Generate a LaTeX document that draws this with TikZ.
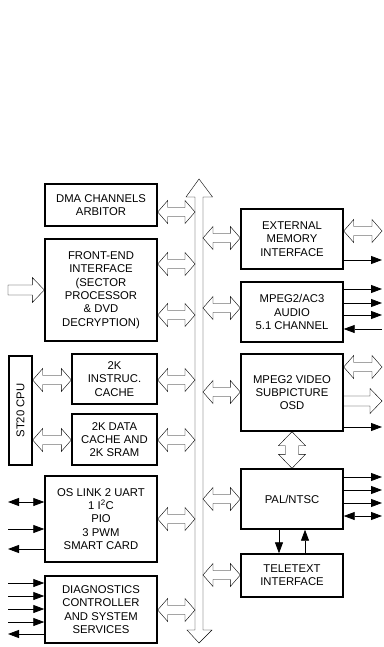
\documentclass[tikz,border=0pt]{standalone}
\usepackage{fontspec}
\setmainfont{Liberation Sans}
\usetikzlibrary{arrows.meta,calc}

\begin{document}
\begin{tikzpicture}[x=1pt,y=-1pt,
    every node/.style={font=\fontsize{11.3}{13.3}\selectfont},
    blk/.style={draw,line width=1.4pt,align=center,inner sep=0pt},
    sig/.style={-{Triangle[length=11pt,width=8pt]},line width=0.8pt},
    sigb/.style={{Triangle[length=11pt,width=8pt]}-{Triangle[length=11pt,width=8pt]},line width=0.8pt},
    hollow/.style={draw,line width=1pt,line join=miter},
    hbus/.style={hollow,to path={
        -- ($(\tikztostart)+(10pt,11.5pt)$) -- ($(\tikztostart)+(10pt,4.5pt)$)
        -- ($(\tikztotarget)+(-10pt,4.5pt)$) -- ($(\tikztotarget)+(-10pt,11.5pt)$)
        -- (\tikztotarget)
        -- ($(\tikztotarget)+(-10pt,-11.5pt)$) -- ($(\tikztotarget)+(-10pt,-4.5pt)$)
        -- ($(\tikztostart)+(10pt,-4.5pt)$) -- ($(\tikztostart)+(10pt,-11.5pt)$) -- cycle}},
    hone/.style={hollow,to path={
        -- ($(\tikztostart)+(0pt,5pt)$)
        -- ($(\tikztotarget)+(-12pt,5pt)$) -- ($(\tikztotarget)+(-12pt,12.5pt)$)
        -- (\tikztotarget)
        -- ($(\tikztotarget)+(-12pt,-12.5pt)$) -- ($(\tikztotarget)+(-12pt,-5pt)$)
        -- ($(\tikztostart)+(0pt,-5pt)$) -- cycle}},
    vbus/.style={hollow,to path={
        -- ($(\tikztostart)+(13.5pt,-14pt)$) -- ($(\tikztostart)+(6.5pt,-14pt)$)
        -- ($(\tikztotarget)+(6.5pt,14pt)$) -- ($(\tikztotarget)+(13.5pt,14pt)$)
        -- (\tikztotarget)
        -- ($(\tikztotarget)+(-13.5pt,14pt)$) -- ($(\tikztotarget)+(-6.5pt,14pt)$)
        -- ($(\tikztostart)+(-6.5pt,-14pt)$) -- ($(\tikztostart)+(-13.5pt,-14pt)$) -- cycle}},
    busline/.style={hollow,to path={
        -- ($(\tikztostart)+(13.5pt,-18pt)$) -- ($(\tikztostart)+(4pt,-18pt)$)
        -- ($(\tikztotarget)+(4pt,13pt)$) -- ($(\tikztotarget)+(13pt,13pt)$)
        -- (\tikztotarget)
        -- ($(\tikztotarget)+(-12pt,13pt)$) -- ($(\tikztotarget)+(-4pt,13pt)$)
        -- ($(\tikztostart)+(-4pt,-18pt)$) -- ($(\tikztostart)+(-13pt,-18pt)$) -- cycle}}]
\useasboundingbox (0,0) rectangle (383,647);

% bus and edges
\coordinate (bustop) at (199,179);
\coordinate (busbot) at (199,643);
\coordinate (bl) at (195,0);
\coordinate (br) at (203,0);
\coordinate (lft) at (8,0);
\coordinate (rgt) at (382,0);
\draw (bustop) to[busline] (busbot);

% left column
\node[blk,minimum width=112,minimum height=42] (dma) at (101,205) {DMA CHANNELS\\ARBITOR};
\node[blk,minimum width=112,minimum height=102] (fe) at (101,290) {FRONT-END\\INTERFACE\\(SECTOR\\PROCESSOR\\\& DVD\\DECRYPTION)};
\node[blk,minimum width=23,minimum height=109] (cpu) at (20.5,410.5) {};
\node[rotate=90] at (cpu.center) {ST20 CPU};
\node[blk,minimum width=85,minimum height=50] (icache) at (114.5,379) {2K\\INSTRUC.\\CACHE};
\node[blk,minimum width=85,minimum height=51] (dcache) at (114.5,439.5) {2K DATA\\CACHE AND\\2K SRAM};
\node[blk,minimum width=112,minimum height=86] (oslink) at (101,519) {OS LINK 2 UART\\1 I\textsuperscript{2}C\\PIO\\3 PWM\\SMART CARD};
\node[blk,minimum width=112,minimum height=67] (diag) at (101,609.5) {DIAGNOSTICS\\CONTROLLER\\AND SYSTEM\\SERVICES};

% right column
\node[blk,minimum width=102,minimum height=60] (emi) at (292,239) {EXTERNAL\\MEMORY\\INTERFACE};
\node[blk,minimum width=102,minimum height=60] (audio) at (292,312) {MPEG2/AC3\\AUDIO\\5.1 CHANNEL};
\node[blk,minimum width=102,minimum height=77] (video) at (292,392.5) {MPEG2 VIDEO\\SUBPICTURE\\OSD};
\node[blk,minimum width=102,minimum height=60] (pal) at (292,499) {PAL/NTSC};
\node[blk,minimum width=102,minimum height=43] (ttx) at (292,575.5) {TELETEXT\\INTERFACE};

% bus connections
\draw (dma.east |- 0,212) to[hbus] (bl |- 0,212);
\foreach \yy in {264,315} \draw (fe.east |- 0,\yy) to[hbus] (bl |- 0,\yy);
\draw (icache.east |- 0,380) to[hbus] (bl |- 0,380);
\draw (dcache.east |- 0,440) to[hbus] (bl |- 0,440);
\draw (oslink.east |- 0,519) to[hbus] (bl |- 0,519);
\draw (diag.east |- 0,610) to[hbus] (bl |- 0,610);
\draw (br |- 0,238) to[hbus] (emi.west |- 0,238);
\draw (br |- 0,308) to[hbus] (audio.west |- 0,308);
\draw (br |- 0,392) to[hbus] (video.west |- 0,392);
\draw (br |- 0,499) to[hbus] (pal.west |- 0,499);
\draw (br |- 0,575) to[hbus] (ttx.west |- 0,575);

% cpu to caches
\draw (cpu.east |- 0,380) to[hbus] (icache.west |- 0,380);
\draw (cpu.east |- 0,440) to[hbus] (dcache.west |- 0,440);

% left side signals
\draw (lft |- 0,290) to[hone] (fe.west |- 0,290);
\draw[sigb] (lft |- 0,502) -- (oslink.west |- 0,502);
\draw[sig] (lft |- 0,529) -- (oslink.west |- 0,529);
\draw[sig] (oslink.west |- 0,549) -- (lft |- 0,549);
\foreach \yy in {583,596,609,622} \draw[sig] (lft |- 0,\yy) -- (diag.west |- 0,\yy);
\draw[sig] (diag.west |- 0,634) -- (lft |- 0,634);

% right side signals
\draw (emi.east |- 0,231) to[hbus] (rgt |- 0,231);
\draw[sig] (emi.east |- 0,260) -- (rgt |- 0,260);
\foreach \yy in {289,303,315} \draw[sig] (audio.east |- 0,\yy) -- (rgt |- 0,\yy);
\draw[sig] (rgt |- 0,329) -- (audio.east |- 0,329);
\draw (video.east |- 0,367) to[hbus] (rgt |- 0,367);
\draw (video.east |- 0,401) to[hone] (rgt |- 0,401);
\draw[sig] (video.east |- 0,427) -- (rgt |- 0,427);
\draw (video.south) to[vbus] (pal.north);
\foreach \yy in {477,490,503} \draw[sig] (pal.east |- 0,\yy) -- (rgt |- 0,\yy);
\draw[sigb] (pal.east |- 0,516) -- (rgt |- 0,516);
\draw[sig] (pal.south -| 279,0) -- (ttx.north -| 279,0);
\draw[sig] (ttx.north -| 305,0) -- (pal.south -| 305,0);
\end{tikzpicture}
\end{document}
